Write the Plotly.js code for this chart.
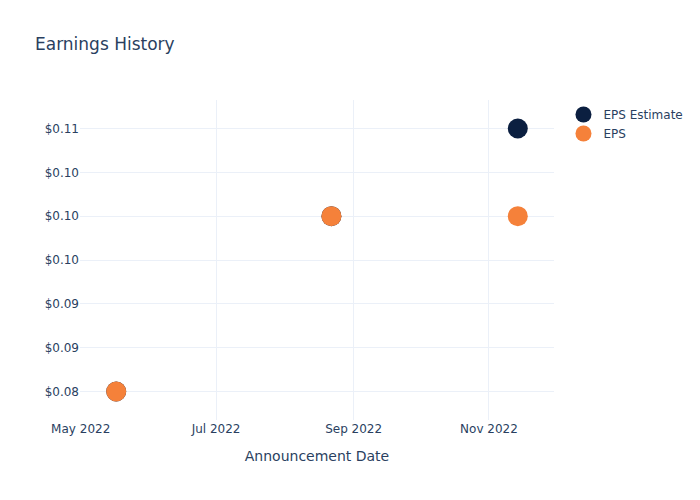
<!DOCTYPE html>
<html>
<head>
<meta charset="utf-8">
<script src="https://cdn.plot.ly/plotly-3.0.1.min.js"></script>
<style>html,body{margin:0;padding:0;}#chart{width:700px;height:500px;}</style>
</head>
<body>
<div id="chart"></div>
<script>
var dates = ["2022-05-17", "2022-08-22", "2022-11-14"];
var epsEstimate = [0.08, 0.10, 0.11];
var epsActual = [0.08, 0.10, 0.10];

var traces = [
  {x: dates, y: epsEstimate, name: "EPS Estimate", mode: "markers", type: "scatter",
   marker: {color: "#0b1f40", size: 20}},
  {x: dates, y: epsActual, name: "EPS", mode: "markers", type: "scatter",
   marker: {color: "#f5813a", size: 20}}
];

var layout = {
  width: 700, height: 500,
  font: {family: "DejaVu Sans", color: "#2a3f5f"},
  title: {text: "Earnings History", x: 0.05, xanchor: "left"},
  xaxis: {title: {text: "Announcement Date", standoff: 16}, gridcolor: "#EBF0F8", zeroline: false},
  yaxis: {tickprefix: "$", tickformat: ".2f", gridcolor: "#EBF0F8", zeroline: false, dtick: 0.005},
  plot_bgcolor: "white", paper_bgcolor: "white"
};
Plotly.newPlot("chart", traces, layout, {displayModeBar: false});
</script>
</body>
</html>
